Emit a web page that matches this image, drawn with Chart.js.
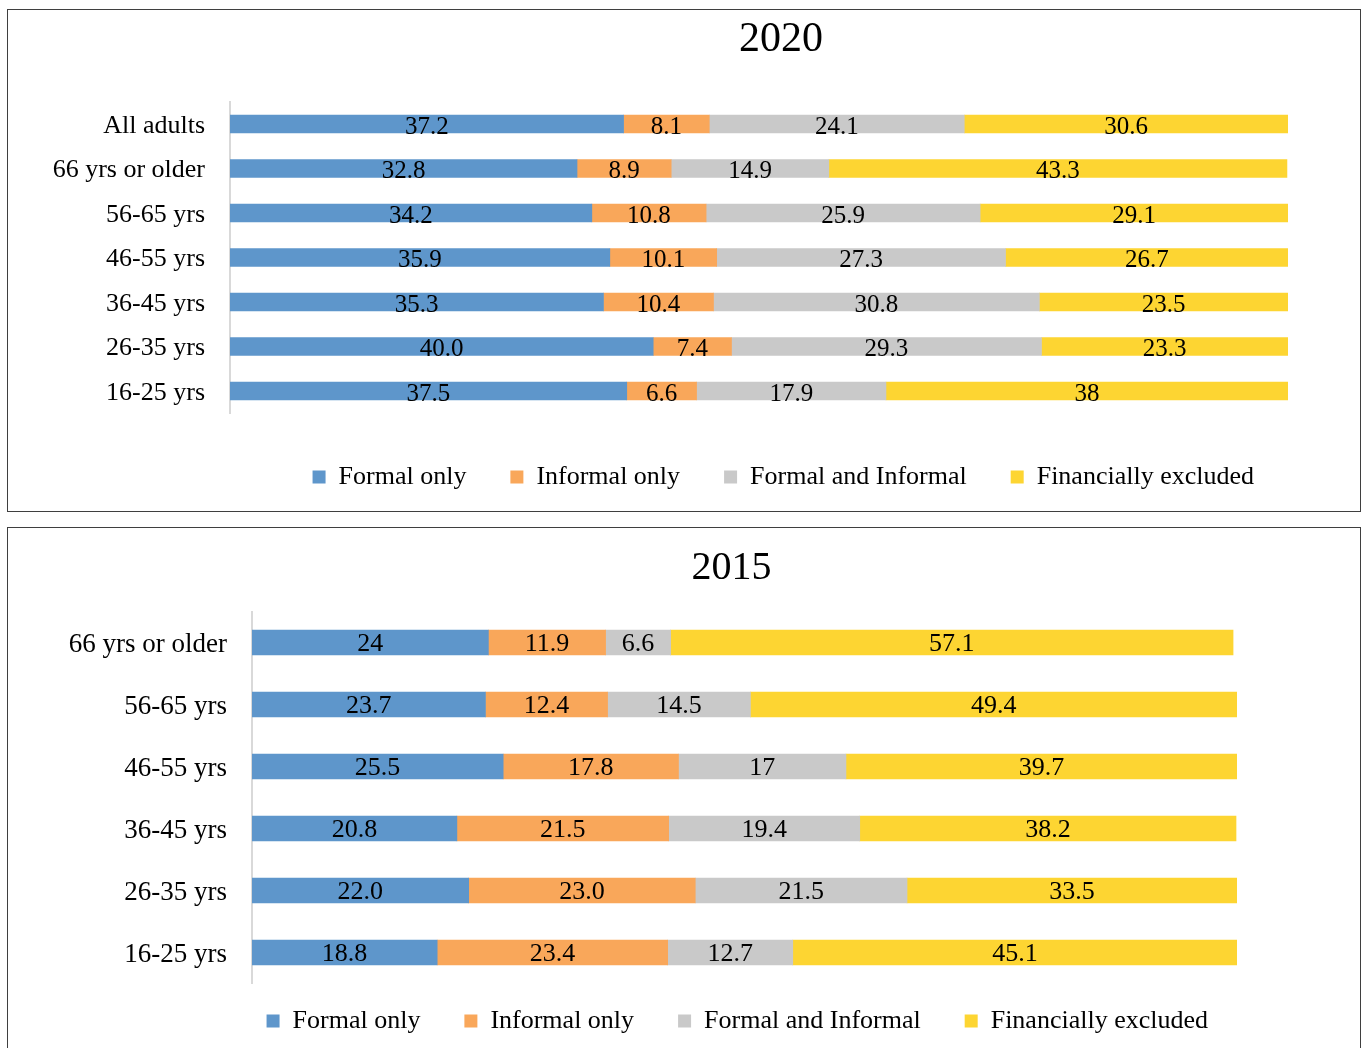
<!DOCTYPE html>
<html>
<head>
<meta charset="utf-8">
<script src="https://cdn.jsdelivr.net/npm/chart.js@4"></script>
<style>
  html, body { margin: 0; padding: 0; background: #ffffff; }
  body { width: 1365px; height: 1048px; position: relative; overflow: hidden; }
  .box { position: absolute; left: 7px; width: 1354px; border: 1px solid #3f3f3f; box-sizing: border-box; background: #fff; }
  #box1 { top: 9px; height: 503px; }
  #box2 { top: 527px; height: 540px; }
  canvas { display: block; }
</style>
</head>
<body>
<div class="box" id="box1"><canvas id="c1" width="1352" height="501"></canvas></div>
<div class="box" id="box2"><canvas id="c2" width="1352" height="530"></canvas></div>
<script>
// ---------- DATA ----------
const seriesNames = ['Formal only', 'Informal only', 'Formal and Informal', 'Financially excluded'];

const categories2020 = ['All adults', '66 yrs or older', '56-65 yrs', '46-55 yrs', '36-45 yrs', '26-35 yrs', '16-25 yrs'];
const formal2020    = ['37.2', '32.8', '34.2', '35.9', '35.3', '40.0', '37.5'];
const informal2020  = ['8.1', '8.9', '10.8', '10.1', '10.4', '7.4', '6.6'];
const both2020      = ['24.1', '14.9', '25.9', '27.3', '30.8', '29.3', '17.9'];
const excluded2020  = ['30.6', '43.3', '29.1', '26.7', '23.5', '23.3', '38'];

const categories2015 = ['66 yrs or older', '56-65 yrs', '46-55 yrs', '36-45 yrs', '26-35 yrs', '16-25 yrs'];
const formal2015    = ['24', '23.7', '25.5', '20.8', '22.0', '18.8'];
const informal2015  = ['11.9', '12.4', '17.8', '21.5', '23.0', '23.4'];
const both2015      = ['6.6', '14.5', '17', '19.4', '21.5', '12.7'];
const excluded2015  = ['57.1', '49.4', '39.7', '38.2', '33.5', '45.1'];

// ---------- STYLE ----------
const colors = ['#5E96CB', '#F9A75A', '#C9C9C9', '#FDD532'];
const FONT = "'Liberation Serif', 'Times New Roman', serif";

const valueLabels = {
  id: 'valueLabels',
  afterLayout(chart, args, opts) {
    const tb = chart.titleBlock;
    if (tb && opts.titleDx) { tb.left += opts.titleDx; tb.right += opts.titleDx; }
    const lg = chart.legend;
    if (lg && opts.legendDx) { lg.left += opts.legendDx; lg.right += opts.legendDx; }
  },
  afterDatasetsDraw(chart, args, opts) {
    const ctx = chart.ctx;
    ctx.save();
    ctx.font = opts.size + 'px ' + FONT;
    ctx.fillStyle = '#000';
    ctx.textAlign = 'center';
    ctx.textBaseline = 'middle';
    chart.data.datasets.forEach((ds, di) => {
      const meta = chart.getDatasetMeta(di);
      meta.data.forEach((bar, i) => {
        const p = bar.getProps(['x', 'y', 'base'], true);
        ctx.fillText(ds.valueText[i], (p.x + p.base) / 2, p.y + opts.dy);
      });
    });
    ctx.restore();
  }
};

function makeChart(id, cfg) {
  const lists = cfg.series;
  return new Chart(document.getElementById(id), {
    type: 'bar',
    data: {
      labels: cfg.categories,
      datasets: lists.map((arr, k) => ({
        label: seriesNames[k],
        data: arr.map(Number),
        valueText: arr,
        backgroundColor: colors[k],
        borderWidth: 0,
        barThickness: cfg.barThickness
      }))
    },
    plugins: [valueLabels],
    options: {
      indexAxis: 'y',
      responsive: false,
      animation: false,
      layout: { padding: { left: 0, right: cfg.padRight, top: 0, bottom: cfg.padBottom } },
      scales: {
        x: { stacked: true, min: 0, max: 100, display: false },
        y: {
          stacked: true,
          grid: { display: false, drawTicks: false },
          border: { display: true, color: '#d9d9d9', width: 2 },
          ticks: { color: '#000', font: { family: FONT, size: cfg.catSize }, padding: 25, labelOffset: cfg.catDy },
          afterFit: (s) => { s.width = cfg.axisWidth; }
        }
      },
      plugins: {
        valueLabels: { size: cfg.valSize, dy: cfg.valDy, titleDx: cfg.titleDx, legendDx: cfg.legendDx },
        tooltip: { enabled: false },
        title: {
          display: true,
          text: cfg.title,
          fullSize: false,
          color: '#000',
          font: { family: FONT, size: cfg.titleSize, weight: 'normal' },
          padding: { top: cfg.titleTop, bottom: cfg.titleBottom }
        },
        legend: {
          display: true,
          position: 'bottom',
          fullSize: cfg.legendFull,
          align: cfg.legendAlign,
          title: { display: true, text: '', font: { size: 1 }, padding: { top: cfg.legendShift, bottom: 0 } },
          labels: {
            color: '#000',
            font: { family: FONT, size: cfg.legendSize },
            boxWidth: 13,
            boxHeight: 13,
            padding: 44
          }
        }
      }
    }
  });
}

makeChart('c1', {
  title: '2020',
  categories: categories2020,
  series: [formal2020, informal2020, both2020, excluded2020],
  barThickness: 18,
  axisWidth: 222,
  padRight: 72,
  padBottom: 11,
  titleSize: 42, titleTop: 5, titleBottom: 36.4, titleDx: 22,
  catSize: 26, catDy: 2,
  valSize: 25, valDy: 3,
  legendSize: 26, legendShift: 5.6, legendAlign: 'end', legendFull: false, legendDx: 10
});

makeChart('c2', {
  title: '2015',
  categories: categories2015,
  series: [formal2015, informal2015, both2015, excluded2015],
  barThickness: 25,
  axisWidth: 244,
  padRight: 123,
  padBottom: 14,
  titleSize: 40, titleTop: 16.5, titleBottom: 19, titleDx: -13,
  catSize: 27, catDy: 2,
  valSize: 26, valDy: 2,
  legendSize: 26, legendShift: -20.7, legendAlign: 'end', legendFull: true, legendDx: 15
});
</script>
</body>
</html>
